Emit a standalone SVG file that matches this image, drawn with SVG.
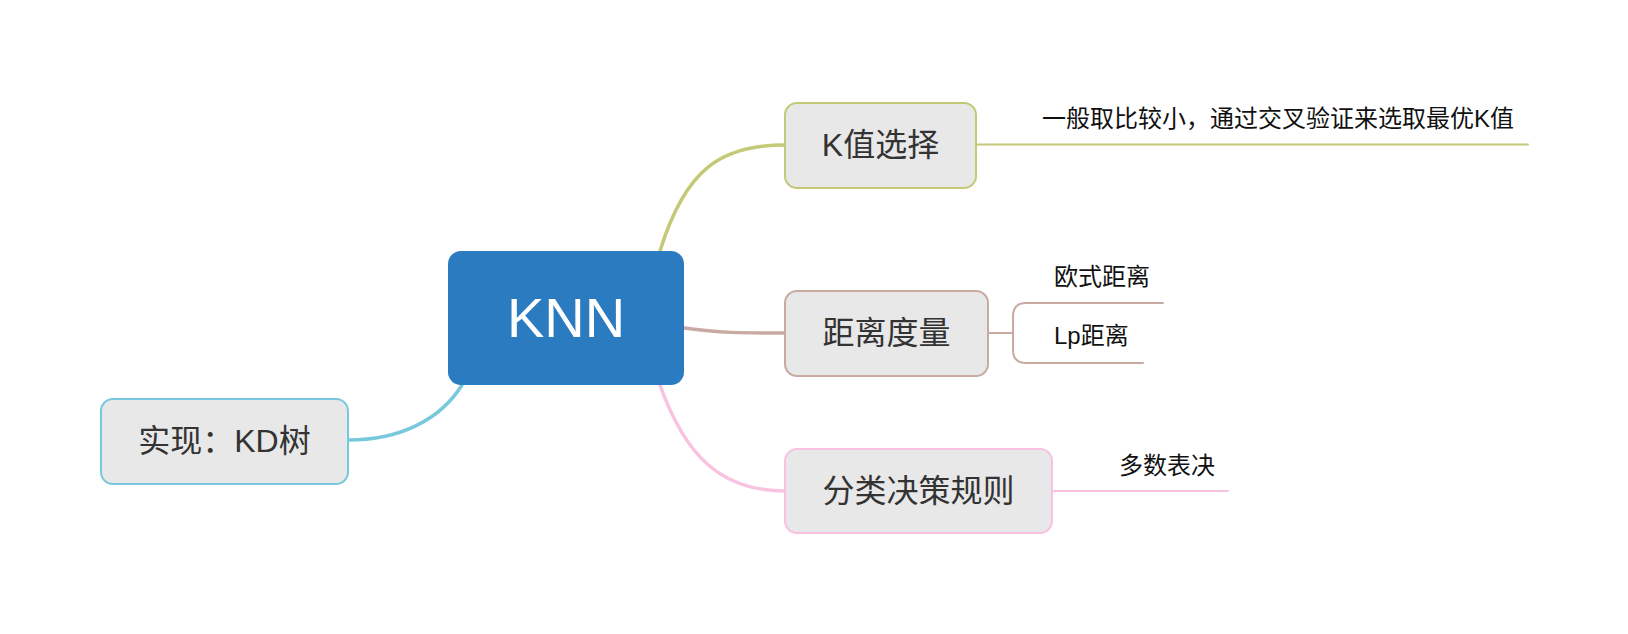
<svg xmlns="http://www.w3.org/2000/svg" width="1628" height="634" viewBox="0 0 1628 634">
<style>
.box{fill:#e8e8e8;stroke-width:2}
.lbl{font-family:"Liberation Sans","Noto Sans CJK SC",sans-serif;font-size:32px;fill:#333;text-anchor:middle}
.sub{font-family:"Liberation Sans","Noto Sans CJK SC",sans-serif;font-size:24px;fill:#111}
.c{fill:none;stroke-linecap:round}
</style>
<rect width="1628" height="634" fill="#ffffff"/>
<g id="connectors">
<path class="c" d="M660,251 C685,170 720,145 785,145" stroke="#c3c977" stroke-width="3.5"/>
<path class="c" d="M684,328 C720,333 740,333 785,333" stroke="#c9aaa2" stroke-width="3.5"/>
<path class="c" d="M660,385 C685,455 720,491 785,491" stroke="#f8c2e0" stroke-width="3.5"/>
<path class="c" d="M462,385 C440,420 400,440 348,440" stroke="#78c9dc" stroke-width="3.5"/>
<path class="c" d="M976,144.5 H1528" stroke="#c3c977" stroke-width="2"/>
<path class="c" d="M988,333 H1013 M1163,303 H1026 Q1013,303 1013,316 V350 Q1013,363 1026,363 H1143" stroke="#c9aaa2" stroke-width="2"/>
<path class="c" d="M1052,491 H1228" stroke="#f8c2e0" stroke-width="2"/>
</g>
<g id="root">
<rect x="448" y="251" width="236" height="134" rx="13" fill="#2b7bc0"/>
<text x="566" y="337" font-family="Liberation Sans,sans-serif" font-size="56" fill="#ffffff" text-anchor="middle">KNN</text>
</g>
<g id="k">
<rect class="box" x="785" y="103" width="191" height="85" rx="12" stroke="#c3c977"/>
<text class="lbl" x="880.5" y="156">K值选择</text>
</g>
<g id="k-note">
<text class="sub" x="1042" y="127">一般取比较小，通过交叉验证来选取最优K值</text>
</g>
<g id="dist">
<rect class="box" x="785" y="291" width="203" height="85" rx="12" stroke="#c9aaa2"/>
<text class="lbl" x="886.5" y="344">距离度量</text>
</g>
<g id="dist-euclid">
<text class="sub" x="1054" y="285">欧式距离</text>
</g>
<g id="dist-lp">
<text class="sub" x="1054" y="344">Lp距离</text>
</g>
<g id="rule">
<rect class="box" x="785" y="449" width="267" height="84" rx="12" stroke="#f8c2e0"/>
<text class="lbl" x="918.5" y="502">分类决策规则</text>
</g>
<g id="rule-vote">
<text class="sub" x="1119" y="474">多数表决</text>
</g>
<g id="impl">
<rect class="box" x="101" y="399" width="247" height="85" rx="12" stroke="#78c9dc"/>
<text class="lbl" x="224.5" y="452">实现：KD树</text>
</g>
</svg>
